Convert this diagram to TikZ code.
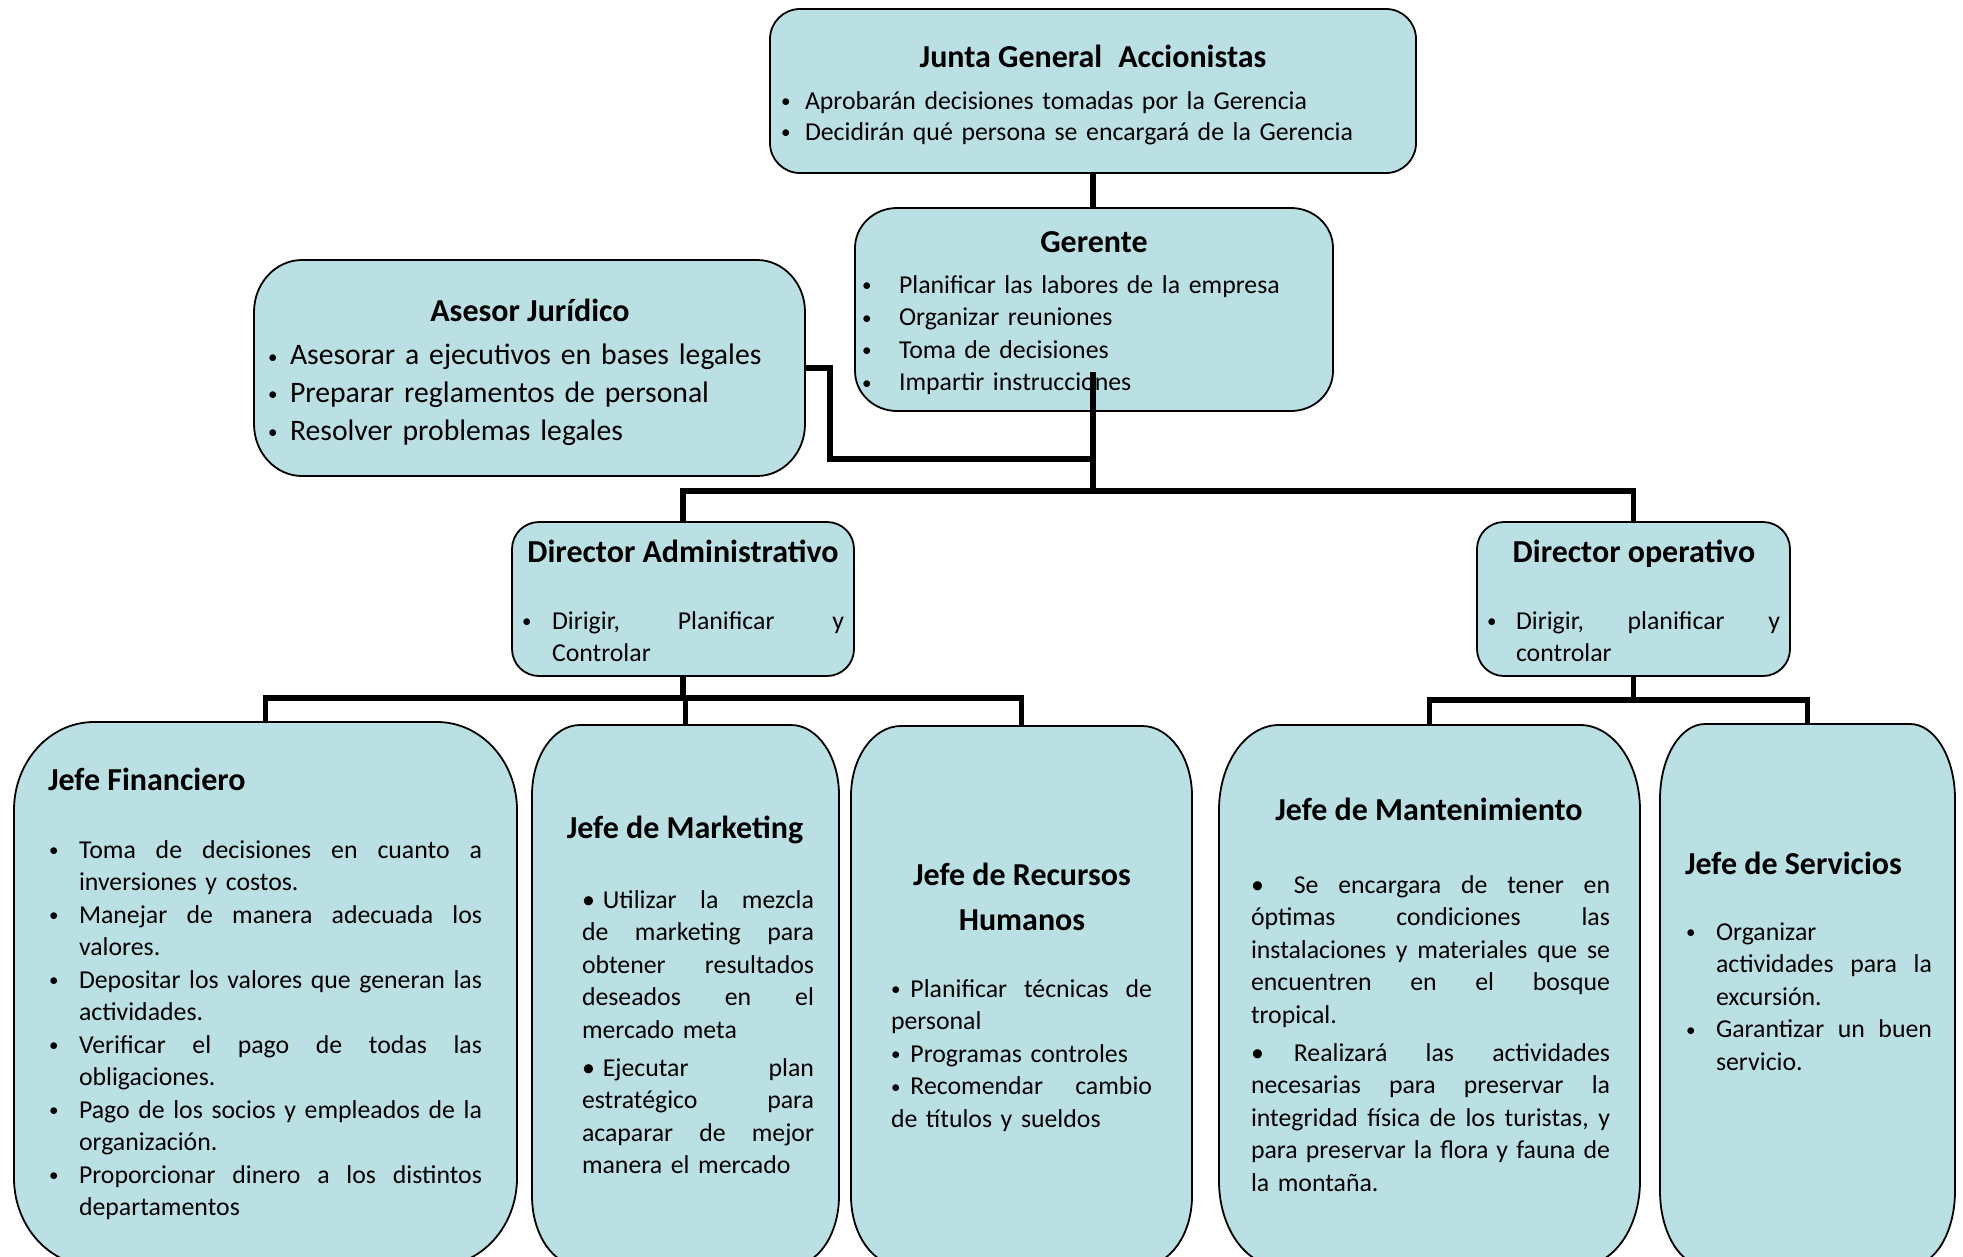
\documentclass[tikz,border=0pt]{standalone}
\usepackage{fontspec}
\setmainfont{Carlito}
\setlength\parindent{0pt}
\definecolor{boxfill}{HTML}{BBE0E3}
\tikzset{
  boxsty/.style={draw=black, line width=1.8pt, fill=boxfill},
  frame/.style={rectangle, draw=none, inner sep=0pt, outer sep=0pt},
  conn/.style={draw=black, line width=5.5pt, line join=miter, line cap=butt},
  body/.style={inner sep=0pt, outer sep=0pt, anchor=north west, align=left, font=\fontsize{25.8}{32.5}\selectfont},
  ttl/.style={inner sep=0pt, outer sep=0pt, anchor=base, font=\bfseries\fontsize{32}{39}\selectfont},
}
% name, x1, y1, x2, y2, rx, ry
\newcommand\rbox[7]{%
  \path[boxsty] (#2,#3+#7) .. controls (#2,#3+0.448*#7) and (#2+0.448*#6,#3) .. (#2+#6,#3)
   -- (#4-#6,#3) .. controls (#4-0.448*#6,#3) and (#4,#3+0.448*#7) .. (#4,#3+#7)
   -- (#4,#5-#7) .. controls (#4,#5-0.448*#7) and (#4-0.448*#6,#5) .. (#4-#6,#5)
   -- (#2+#6,#5) .. controls (#2+0.448*#6,#5) and (#2,#5-0.448*#7) .. (#2,#5-#7) -- cycle;
  \node[frame, minimum width={#4-#2}, minimum height={#5-#3}] (#1) at ({(#2+#4)/2},{(#3+#5)/2}) {};
}
\newcommand{\sbul}{\raisebox{1.6pt}{\fontsize{19}{19}\selectfont\textbullet}}
% justified line of given width: every interword space stretches equally
\newcommand{\JW}[2]{\leavevmode\hbox to #1{\frenchspacing\spaceskip=0.22em plus 1fil\relax\xspaceskip=0.22em plus 1fil\relax #2}}
\newcommand{\BL}[2]{\leavevmode\makebox[#1][l]{\sbul}#2}
\newcommand{\BJ}[3]{\leavevmode\makebox[#1][l]{\sbul}\JW{#2}{#3}}
\newcommand{\IL}[2]{\leavevmode\hspace*{#1}#2}
\newcommand{\indJ}[3]{\leavevmode\hspace*{#1}\JW{#2}{#3}}
\begin{document}
\begin{tikzpicture}[x=1pt,y=-1pt]
\useasboundingbox (0,0) rectangle (1963,1256);
\clip (0,0) rectangle (1963,1256);

% boxes
\rbox{junta}{770}{9}{1416}{173}{30}{30}
\rbox{gerente}{855}{208}{1333}{411}{42}{40}
\rbox{asesor}{254}{260}{805}{476}{48}{52}
\rbox{diradm}{512}{522}{854}{676}{27}{27}
\rbox{dirop}{1477}{522}{1790}{676}{27}{27}
\rbox{fin}{14}{722}{517}{1266}{80}{88}
\rbox{mkt}{532}{725}{839}{1266}{48}{70}
\rbox{rrhh}{851}{726}{1192}{1266}{50}{70}
\rbox{mant}{1219}{725}{1640}{1266}{60}{85}
\rbox{serv}{1660}{724}{1955}{1266}{45}{75}

% helper coordinates
\coordinate (hub) at (1093,491);
\coordinate (gtap) at (1093,372);
\coordinate (ajoin) at (1093,459);
\coordinate (admhub) at (683,698);
\coordinate (ophub) at (1633.5,700);

% titles
\node[ttl] (juntaH) at (1093,67) {Junta General\hspace{16pt}Accionistas};
\node[ttl] (gerenteH) at (1094,252) {Gerente};
\node[ttl] (asesorH) at (530,321) {Asesor Jurídico};
\node[ttl] (diradmH) at (683,562) {Director Administrativo};
\node[ttl] (diropH) at (1634,562) {Director operativo};
\node[ttl, anchor=base west] (finH) at (48,790) {Jefe Financiero};
\node[ttl] (mktH) at (685,838) {Jefe de Marketing};
\node[ttl, anchor=north, align=center, font=\bfseries\fontsize{32}{45}\selectfont] (rrhhH) at (1022,854) {\strut Jefe de Recursos\\Humanos};
\node[ttl] (mantH) at (1429,820) {Jefe de Mantenimiento};
\node[ttl, anchor=base west] (servH) at (1685,874) {Jefe de Servicios};

% texts
\node[body, text width=620pt, font=\fontsize{25.8}{31}\selectfont] (juntaT) at (781,87.8)
 {\strut\BL{24pt}{Aprobarán decisiones tomadas por la Gerencia}\\
  \BL{24pt}{Decidirán qué persona se encargará de la Gerencia}};
\node[body, text width=450pt] (gerenteT) at (862,270.5)
 {\strut\BL{37pt}{Planificar las labores de la empresa}\\
  \BL{37pt}{Organizar reuniones}\\
  \BL{37pt}{Toma de decisiones}\\
  \BL{37pt}{Impartir instrucciones}};
\node[body, text width=530pt, font=\fontsize{29.7}{37.6}\selectfont] (asesorT) at (268,338.5)
 {\strut\BL{22pt}{Asesorar a ejecutivos en bases legales}\\
  \BL{22pt}{Preparar reglamentos de personal}\\
  \BL{22pt}{Resolver problemas legales}};
\node[body, text width=322pt] (diradmT) at (522,606.5)
 {\strut\BJ{30pt}{292pt}{Dirigir, Planificar y}\\
  \IL{30pt}{Controlar}};
\node[body, text width=293pt] (diropT) at (1487,606.5)
 {\strut\BJ{29pt}{264pt}{Dirigir, planificar y}\\
  \IL{29pt}{controlar}};
\node[body, text width=433pt] (finT) at (49,835.5)
 {\strut\BJ{30pt}{403pt}{Toma de decisiones en cuanto a}\\
  \IL{30pt}{inversiones y costos.}\\
  \BJ{30pt}{403pt}{Manejar de manera adecuada los}\\
  \IL{30pt}{valores.}\\
  \BJ{30pt}{403pt}{Depositar los valores que generan las}\\
  \IL{30pt}{actividades.}\\
  \BJ{30pt}{403pt}{Verificar el pago de todas las}\\
  \IL{30pt}{obligaciones.}\\
  \BJ{30pt}{403pt}{Pago de los socios y empleados de la}\\
  \IL{30pt}{organización.}\\
  \BJ{30pt}{403pt}{Proporcionar dinero a los distintos}\\
  \IL{30pt}{departamentos}};
\node[body, text width=232pt] (mktT) at (582,885.5)
 {\strut\JW{232pt}{\textbullet\kern8pt Utilizar la mezcla}\\
  \JW{232pt}{de marketing para}\\
  \JW{232pt}{obtener resultados}\\
  \JW{232pt}{deseados en el}\\
  mercado meta\\[5.5pt]
  \JW{232pt}{\textbullet\kern8pt Ejecutar plan}\\
  \JW{232pt}{estratégico para}\\
  \JW{232pt}{acaparar de mejor}\\
  manera el mercado};
\node[body, text width=261pt] (rrhhT) at (891,974.5)
 {\strut\JW{261pt}{\sbul\kern10pt Planificar técnicas de}\\
  personal\\
  \sbul\kern10pt Programas controles\\
  \JW{261pt}{\sbul\kern10pt Recomendar cambio}\\
  de títulos y sueldos};
\node[body, text width=359pt] (mantT) at (1251,870.5)
 {\strut\JW{359pt}{\textbullet\kern30pt Se encargara de tener en}\\
  \JW{359pt}{óptimas condiciones las}\\
  \JW{359pt}{instalaciones y materiales que se}\\
  \JW{359pt}{encuentren en el bosque}\\
  tropical.\\[5.5pt]
  \JW{359pt}{\textbullet\kern30pt Realizará las actividades}\\
  \JW{359pt}{necesarias para preservar la}\\
  \JW{359pt}{integridad física de los turistas, y}\\
  \JW{359pt}{para preservar la flora y fauna de}\\
  la montaña.};
\node[body, text width=246pt] (servT) at (1686,917.5)
 {\strut\BL{30pt}{Organizar}\\
  \indJ{30pt}{216pt}{actividades para la}\\
  \IL{30pt}{excursión.}\\
  \BJ{30pt}{216pt}{Garantizar un buen}\\
  \IL{30pt}{servicio.}};

% connectors
\draw[conn] (junta.south) -- (junta.south |- gerente.north);
\draw[conn] (gtap) -- (hub);
\draw[conn] (asesor.east) -- ++(25,0) |- (ajoin);
\draw[conn] (diradm.north) |- (hub) -| (dirop.north);
\draw[conn] (diradm.south) -- (admhub);
\draw[conn] (fin.north) |- (admhub) -| (rrhh.north);
\draw[conn] (mkt.north) -- (mkt.north |- admhub);
\draw[conn] (dirop.south) -- (ophub);
\draw[conn] (mant.north) |- (ophub) -| (serv.north);
\end{tikzpicture}
\end{document}
